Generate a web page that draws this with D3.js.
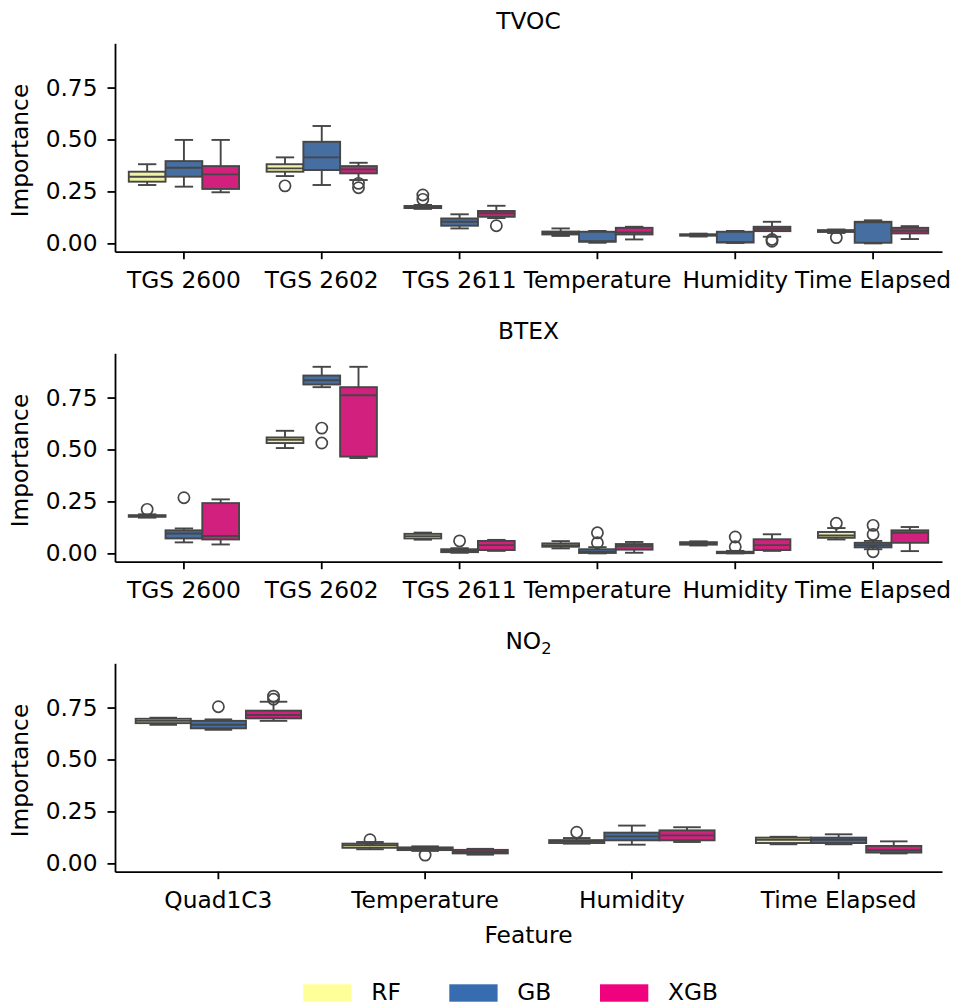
<!DOCTYPE html>
<html>
<head>
<meta charset="utf-8">
<script src="https://cdn.jsdelivr.net/npm/d3@7"></script>
<style>
  html, body { margin: 0; padding: 0; background: #fff; }
  svg { display: block; font-family: "DejaVu Sans", sans-serif; }
</style>
</head>
<body>
<script>
// Feature-importance distributions of three models, one panel per target gas.
// Each box is given as [lower whisker, Q1, median, Q3, upper whisker].

const models = ["RF", "GB", "XGB"];

const sensorFeatures = ["TGS 2600", "TGS 2602", "TGS 2611", "Temperature", "Humidity", "Time Elapsed"];
const no2Features = ["Quad1C3", "Temperature", "Humidity", "Time Elapsed"];

// TVOC
const tvocRF = [
  [0.281, 0.297, 0.321, 0.345, 0.381],
  [0.324, 0.345, 0.361, 0.381, 0.414],
  [0.166, 0.170, 0.175, 0.180, 0.185],
  [0.036, 0.043, 0.050, 0.057, 0.072],
  [0.033, 0.037, 0.040, 0.044, 0.047],
  [0.050, 0.055, 0.060, 0.064, 0.067]
];
const tvocGB = [
  [0.273, 0.321, 0.364, 0.396, 0.498],
  [0.281, 0.353, 0.414, 0.489, 0.565],
  [0.072, 0.085, 0.104, 0.120, 0.140],
  [0.003, 0.008, 0.010, 0.056, 0.060],
  [0.002, 0.004, 0.006, 0.056, 0.060],
  [0.000, 0.003, 0.101, 0.104, 0.111]
];
const tvocXGB = [
  [0.246, 0.262, 0.332, 0.372, 0.498],
  [0.305, 0.337, 0.356, 0.372, 0.388],
  [0.122, 0.128, 0.145, 0.156, 0.181],
  [0.019, 0.043, 0.053, 0.075, 0.080],
  [0.032, 0.059, 0.070, 0.080, 0.104],
  [0.021, 0.048, 0.061, 0.075, 0.083]
];
const tvocRFOut = [[], [0.277], [0.212, 0.233], [], [], [0.028]];
const tvocGBOut = [[], [], [], [], [], []];
const tvocXGBOut = [[], [0.289, 0.268], [0.085], [], [0.019, 0.010], []];

// BTEX
const btexRF = [
  [0.172, 0.176, 0.180, 0.184, 0.188],
  [0.507, 0.531, 0.547, 0.558, 0.590],
  [0.066, 0.072, 0.083, 0.094, 0.100],
  [0.024, 0.032, 0.040, 0.048, 0.059],
  [0.038, 0.042, 0.048, 0.054, 0.058],
  [0.067, 0.075, 0.086, 0.103, 0.122]
];
const btexGB = [
  [0.053, 0.072, 0.096, 0.111, 0.120],
  [0.800, 0.813, 0.833, 0.856, 0.898],
  [0.003, 0.006, 0.012, 0.020, 0.025],
  [0.000, 0.002, 0.008, 0.020, 0.030],
  [0.000, 0.001, 0.003, 0.008, 0.012],
  [0.020, 0.029, 0.040, 0.051, 0.060]
];
const btexXGB = [
  [0.043, 0.067, 0.084, 0.242, 0.260],
  [0.459, 0.466, 0.761, 0.800, 0.898],
  [0.012, 0.016, 0.040, 0.060, 0.065],
  [0.003, 0.018, 0.035, 0.045, 0.055],
  [0.012, 0.016, 0.040, 0.068, 0.092],
  [0.011, 0.051, 0.099, 0.111, 0.127]
];
const btexRFOut = [[0.212], [], [], [], [], [0.145]];
const btexGBOut = [[0.268], [0.603, 0.531], [0.060], [0.099, 0.051], [0.079, 0.032], [0.135, 0.091, 0.008]];
const btexXGBOut = [[], [], [], [], [], []];

// NO2
const no2RF = [
  [0.667, 0.675, 0.686, 0.696, 0.701],
  [0.068, 0.075, 0.087, 0.095, 0.103],
  [0.095, 0.098, 0.106, 0.112, 0.122],
  [0.092, 0.098, 0.114, 0.124, 0.128]
];
const no2GB = [
  [0.643, 0.650, 0.667, 0.686, 0.693],
  [0.060, 0.064, 0.071, 0.077, 0.082],
  [0.090, 0.111, 0.130, 0.148, 0.182],
  [0.092, 0.098, 0.114, 0.124, 0.140]
];
const no2XGB = [
  [0.686, 0.698, 0.714, 0.735, 0.778],
  [0.042, 0.048, 0.055, 0.065, 0.070],
  [0.103, 0.111, 0.135, 0.159, 0.174],
  [0.048, 0.052, 0.063, 0.084, 0.106]
];
const no2RFOut = [[], [0.114], [0.150], []];
const no2GBOut = [[0.754], [0.040], [], []];
const no2XGBOut = [[0.805, 0.790], [], [], []];

const yTicks = [0, 0.25, 0.5, 0.75];

// Colours: saturated for the legend, softened for the box fills
const legendColors = ["#ffff99", "#386cb0", "#f0027f"];
const boxColors = ["#f2f2a6", "#476ea1", "#d2207e"];
const lineColor = "#464646";

const panels = [
  { title: "TVOC", features: sensorFeatures, stats: [tvocRF, tvocGB, tvocXGB], out: [tvocRFOut, tvocGBOut, tvocXGBOut] },
  { title: "BTEX", features: sensorFeatures, stats: [btexRF, btexGB, btexXGB], out: [btexRFOut, btexGBOut, btexXGBOut] },
  { title: "NO2", features: no2Features, stats: [no2RF, no2GB, no2XGB], out: [no2RFOut, no2GBOut, no2XGBOut] }
];

const W = 954, H = 1004;
const fontSize = 23.3;
const left = 115, right = 942;
const panelTop0 = 43.3, panelStep = 310, panelH = 208.4;

const svg = d3.select("body").append("svg")
  .attr("width", W).attr("height", H)
  .style("font-size", fontSize + "px");

panels.forEach((p, i) => {
  const top = panelTop0 + panelStep * i;
  const bottom = top + panelH;
  const g = svg.append("g");

  const x = d3.scaleBand().domain(p.features).range([left, right]).padding(0);
  const bw = x.bandwidth();
  const hue = d3.scaleBand().domain(models).range([0.1 * bw, 0.9 * bw]).padding(0);
  const y = d3.scaleLinear().domain([-0.04, 0.963]).range([bottom, top]);

  // boxes
  models.forEach((m, mi) => {
    p.features.forEach((f, fi) => {
      const [lo, q1, med, q3, hi] = p.stats[mi][fi];
      const x0 = x(f) + hue(m);
      const w = hue.bandwidth();
      const cx = x0 + w / 2;
      const bx = g.append("g")
        .attr("stroke", lineColor)
        .attr("stroke-width", 1.9)
        .attr("fill", "none");
      bx.append("line").attr("x1", cx).attr("x2", cx).attr("y1", y(q3)).attr("y2", y(hi));
      bx.append("line").attr("x1", cx).attr("x2", cx).attr("y1", y(q1)).attr("y2", y(lo));
      bx.append("line").attr("x1", cx - w / 4).attr("x2", cx + w / 4).attr("y1", y(hi)).attr("y2", y(hi));
      bx.append("line").attr("x1", cx - w / 4).attr("x2", cx + w / 4).attr("y1", y(lo)).attr("y2", y(lo));
      bx.append("rect")
        .attr("x", x0).attr("width", w)
        .attr("y", y(q3)).attr("height", Math.max(0, y(q1) - y(q3)))
        .attr("fill", boxColors[mi]);
      bx.append("line").attr("x1", x0).attr("x2", x0 + w).attr("y1", y(med)).attr("y2", y(med));
      p.out[mi][fi].forEach(v => {
        bx.append("circle").attr("cx", cx).attr("cy", y(v)).attr("r", 5.6)
          .attr("stroke-width", 1.7);
      });
    });
  });

  // axes
  const ax = g.append("g").attr("transform", `translate(${left},0)`)
    .call(d3.axisLeft(y).tickValues(yTicks).tickFormat(d3.format(".2f")).tickSize(7.5).tickPadding(10).tickSizeOuter(0));
  const bx = g.append("g").attr("transform", `translate(0,${bottom})`)
    .call(d3.axisBottom(x).tickSize(7.5).tickPadding(12).tickSizeOuter(0));
  [ax, bx].forEach(a => {
    a.attr("font-family", null).attr("font-size", null);
    a.select(".domain").attr("stroke", "#000").attr("stroke-width", 1.8);
    a.selectAll(".tick line").attr("stroke", "#000").attr("stroke-width", 1.8);
    a.selectAll(".tick text").attr("fill", "#000");
  });

  // panel title
  const t = g.append("text")
    .attr("x", (left + right) / 2).attr("y", top - 14)
    .attr("text-anchor", "middle").attr("fill", "#000");
  if (p.title === "NO2") {
    t.append("tspan").text("NO");
    t.append("tspan").text("2").attr("font-size", fontSize * 0.7).attr("dy", 4.5);
  } else {
    t.text(p.title);
  }

  // y label
  g.append("text")
    .attr("transform", `translate(28,${(top + bottom) / 2 + 3}) rotate(-90)`)
    .attr("text-anchor", "middle").attr("fill", "#000")
    .text("Importance");
});

// x label
svg.append("text")
  .attr("x", (left + right) / 2).attr("y", 943.3)
  .attr("text-anchor", "middle").attr("fill", "#000")
  .text("Feature");

// legend
const legendX = [303.3, 449.3, 600];
const leg = svg.append("g");
models.forEach((m, mi) => {
  leg.append("rect")
    .attr("x", legendX[mi]).attr("y", 984.3)
    .attr("width", 48.3).attr("height", 17.4)
    .attr("fill", legendColors[mi]);
  leg.append("text")
    .attr("x", legendX[mi] + 68).attr("y", 999.5)
    .attr("fill", "#000")
    .text(m);
});
</script>
</body>
</html>
